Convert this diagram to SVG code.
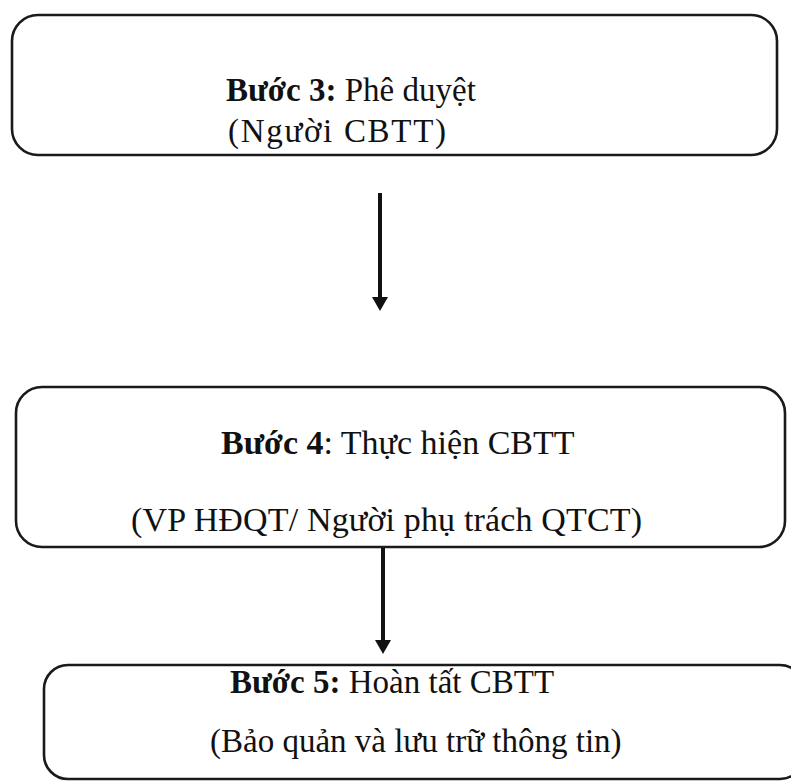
<svg xmlns="http://www.w3.org/2000/svg" width="791" height="783" viewBox="0 0 791 783">
<style>
.box{fill:#ffffff;stroke:#1a1a1a;stroke-width:2.6}
.t{font-family:"Liberation Serif","Times New Roman",serif;font-size:33px;fill:#111}
.b{font-weight:bold}
.arr{stroke:#111;stroke-width:4;fill:none}
.head{fill:#111}
</style>
<rect width="791" height="783" fill="#ffffff"/>
<g id="step3">
<rect class="box" x="12" y="15" width="765" height="140" rx="26" ry="26"/>
<text class="t" x="226" y="101"><tspan class="b">Bước 3:</tspan> Phê duyệt</text>
<text class="t" x="228" y="142" textLength="218" lengthAdjust="spacing">(Người CBTT)</text>
</g>
<g id="step4">
<rect class="box" x="16" y="387" width="769" height="160" rx="26" ry="26"/>
<text class="t" x="221" y="454" style="font-size:34px"><tspan class="b">Bước 4</tspan>: Thực hiện CBTT</text>
<text class="t" x="131" y="531" style="font-size:34px" textLength="511" lengthAdjust="spacing">(VP HĐQT/ Người phụ trách QTCT)</text>
</g>
<g id="step5">
<rect class="box" x="44" y="665" width="760" height="114" rx="24" ry="24"/>
<text class="t" x="230" y="693"><tspan class="b">Bước 5:</tspan> Hoàn tất CBTT</text>
<text class="t" x="210" y="752">(Bảo quản và lưu trữ thông tin)</text>
</g>
<g id="connectors">
<line class="arr" x1="380" y1="193" x2="380" y2="298"/>
<path class="head" d="M372,297 L388,297 L380,311 Z"/>
<line class="arr" x1="383" y1="548" x2="383" y2="641"/>
<path class="head" d="M375,640 L391,640 L383,654 Z"/>
</g>
</svg>
